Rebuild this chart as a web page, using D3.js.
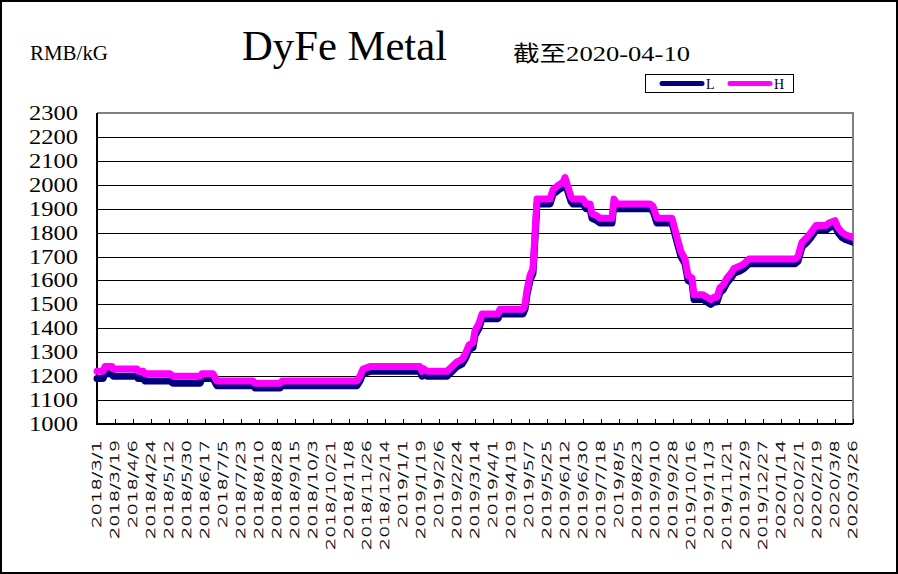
<!DOCTYPE html>
<html><head><meta charset="utf-8">
<script src="https://cdn.jsdelivr.net/npm/d3@7"></script>
<style>html,body{margin:0;padding:0;background:#fff;}svg{display:block;}</style>
</head><body>
<svg id="c" width="898" height="574"></svg>
<script>
const dates = ["2018-03-01","2018-03-07","2018-03-09","2018-03-16","2018-03-17","2018-04-10","2018-04-11","2018-04-16","2018-04-18","2018-05-13","2018-05-16","2018-06-12","2018-06-14","2018-06-25","2018-06-29","2018-08-04","2018-08-06","2018-08-31","2018-09-02","2018-11-16","2018-11-19","2018-11-22","2018-11-29","2019-01-18","2019-01-20","2019-01-22","2019-01-25","2019-02-14","2019-02-19","2019-02-24","2019-03-01","2019-03-04","2019-03-08","2019-03-12","2019-03-14","2019-03-18","2019-03-21","2019-04-06","2019-04-08","2019-05-01","2019-05-03","2019-05-05","2019-05-08","2019-05-11","2019-05-15","2019-05-28","2019-05-31","2019-06-03","2019-06-06","2019-06-10","2019-06-12","2019-06-15","2019-06-18","2019-06-20","2019-06-30","2019-07-03","2019-07-07","2019-07-09","2019-07-14","2019-07-17","2019-07-29","2019-07-31","2019-08-03","2019-09-05","2019-09-08","2019-09-12","2019-09-27","2019-10-02","2019-10-06","2019-10-10","2019-10-13","2019-10-17","2019-10-19","2019-10-28","2019-11-01","2019-11-05","2019-11-08","2019-11-11","2019-11-14","2019-11-17","2019-11-21","2019-11-25","2019-11-28","2019-12-04","2019-12-08","2019-12-13","2020-01-28","2020-01-31","2020-02-04","2020-02-09","2020-02-13","2020-02-18","2020-02-28","2020-03-02","2020-03-08","2020-03-11","2020-03-15","2020-03-19","2020-03-26"];
const highValues = [1220,1220,1240,1240,1230,1230,1220,1220,1210,1210,1200,1200,1210,1210,1180,1180,1170,1170,1180,1180,1200,1230,1240,1240,1220,1230,1220,1220,1240,1260,1270,1290,1330,1340,1390,1420,1460,1460,1480,1480,1500,1560,1620,1650,1940,1940,1980,1990,2000,2010,2030,1990,1950,1940,1940,1920,1920,1880,1870,1860,1860,1940,1920,1920,1910,1860,1860,1780,1720,1690,1620,1610,1540,1540,1530,1520,1530,1530,1570,1580,1610,1630,1650,1660,1670,1690,1690,1700,1760,1780,1800,1830,1830,1840,1850,1820,1800,1790,1780];
const lowValues = [1190,1190,1210,1210,1200,1200,1190,1190,1180,1180,1170,1170,1190,1190,1160,1160,1150,1150,1160,1160,1180,1210,1220,1220,1200,1210,1200,1200,1220,1240,1250,1270,1310,1320,1370,1400,1440,1440,1460,1460,1480,1540,1600,1630,1920,1920,1960,1970,1980,1990,2010,1970,1930,1920,1920,1900,1900,1860,1850,1840,1840,1920,1900,1900,1890,1840,1840,1760,1700,1670,1600,1590,1520,1520,1510,1500,1510,1510,1550,1560,1590,1610,1630,1640,1650,1670,1670,1680,1740,1760,1780,1810,1810,1820,1830,1800,1780,1770,1760];
const tickLabels = ["2018/3/1","2018/3/19","2018/4/6","2018/4/24","2018/5/12","2018/5/30","2018/6/17","2018/7/5","2018/7/23","2018/8/10","2018/8/28","2018/9/15","2018/10/3","2018/10/21","2018/11/8","2018/11/26","2018/12/14","2019/1/1","2019/1/19","2019/2/6","2019/2/24","2019/3/14","2019/4/1","2019/4/19","2019/5/7","2019/5/25","2019/6/12","2019/6/30","2019/7/18","2019/8/5","2019/8/23","2019/9/10","2019/9/28","2019/10/16","2019/11/3","2019/11/21","2019/12/9","2019/12/27","2020/1/14","2020/2/1","2020/2/19","2020/3/8","2020/3/26"];
const yTicks = [1000,1100,1200,1300,1400,1500,1600,1700,1800,1900,2000,2100,2200,2300];
const seriesNames = ["L","H"];
const seriesColors = ["#000080","#FF00FF"];
const titleText = "DyFe Metal";
const unitText = "RMB/kG";
const asOfText = "截至2020-04-10";

const svg = d3.select("#c");
const L = 97, R = 853, T = 113, B = 424;
const parse = d3.timeParse("%Y-%m-%d");
const parseTick = d3.timeParse("%Y/%m/%d");
const tickDates = tickLabels.map(parseTick);
const x = d3.scaleTime().domain([tickDates[0], tickDates[tickDates.length-1]]).range([L, R]);
const y = d3.scaleLinear().domain([1000, 2300]).range([B, T]);

svg.append("rect").attr("x",1).attr("y",1).attr("width",896).attr("height",572)
  .attr("fill","#fff").attr("stroke","#000").attr("stroke-width",2);

svg.append("g").selectAll("line").data(yTicks.filter(v=>v>1000 && v<2300)).join("line")
  .attr("x1",L).attr("x2",R).attr("y1",d=>Math.round(y(d))+0.5).attr("y2",d=>Math.round(y(d))+0.5)
  .attr("stroke","#000").attr("stroke-width",1.2);

svg.append("path").attr("d",`M${L},${y(2300)}H${R}V${B}`).attr("fill","none")
  .attr("stroke","#808080").attr("stroke-width",2);

svg.append("g").selectAll("line").data(tickDates).join("line")
  .attr("x1",d=>Math.round(x(d))+0.5).attr("x2",d=>Math.round(x(d))+0.5).attr("y1",B).attr("y2",B-5)
  .attr("stroke","#000").attr("stroke-width",1);

svg.append("line").attr("x1",L).attr("x2",R).attr("y1",B).attr("y2",B).attr("stroke","#000").attr("stroke-width",2);
svg.append("line").attr("x1",L).attr("x2",L).attr("y1",T).attr("y2",B+1).attr("stroke","#000").attr("stroke-width",2);

svg.append("g").selectAll("text").data(yTicks).join("text")
  .attr("x",78).attr("y",d=>y(d)).attr("dy","0.35em").attr("text-anchor","end")
  .attr("font-family","'Liberation Serif','Times New Roman',serif").attr("font-size",20)
  .attr("textLength",49).attr("lengthAdjust","spacingAndGlyphs")
  .text(d=>d);

svg.append("g").selectAll("text").data(tickLabels).join("text")
  .attr("transform",(d,i)=>`translate(${x(tickDates[i])-1},440) rotate(-90)`)
  .attr("dy","0.36em").attr("text-anchor","end")
  .attr("font-family","'DejaVu Sans','Liberation Sans',sans-serif").attr("font-weight",200).attr("font-size",13)
  .attr("textLength",d=>d.length*11).attr("lengthAdjust","spacingAndGlyphs")
  .attr("fill","#000").attr("stroke","#000").attr("stroke-width",0.3)
  .text(d=>d);

const parsed = dates.map(parse);
svg.append("clipPath").attr("id","pc").append("rect")
  .attr("x",L-4).attr("y",0).attr("width",R-L+4).attr("height",574);
[lowValues, highValues].forEach((vals,si)=>{
  const pts = parsed.map((d,i)=>[d, vals[i]]);
  svg.append("path").datum(pts)
    .attr("clip-path","url(#pc)")
    .attr("fill","none").attr("stroke",seriesColors[si]).attr("stroke-width",7)
    .attr("stroke-linejoin","round").attr("stroke-linecap","round")
    .attr("d", d3.line().x(p=>x(p[0])).y(p=>y(p[1])));
});

svg.append("text").attr("x",30).attr("y",60).attr("font-family","'Liberation Serif',serif")
  .attr("font-size",22).attr("textLength",78).attr("lengthAdjust","spacingAndGlyphs").text(unitText);
svg.append("text").attr("x",242).attr("y",60).attr("font-family","'Liberation Serif',serif")
  .attr("font-size",42).attr("textLength",205).attr("lengthAdjust","spacingAndGlyphs").text(titleText);
svg.append("text").attr("x",513).attr("y",61).attr("font-family","'Liberation Serif','Noto Sans CJK SC',serif")
  .attr("font-size",22).attr("textLength",177).attr("lengthAdjust","spacingAndGlyphs").text(asOfText);

const lg = svg.append("g");
lg.append("rect").attr("x",645.5).attr("y",74.5).attr("width",148).attr("height",18)
  .attr("fill","#fff").attr("stroke","#000").attr("stroke-width",1);
const legX = [660, 728];
seriesNames.forEach((n,i)=>{
  lg.append("line").attr("x1",legX[i]+2).attr("x2",legX[i]+42).attr("y1",83.5).attr("y2",83.5)
    .attr("stroke",seriesColors[i]).attr("stroke-width",5).attr("stroke-linecap","round");
  lg.append("text").attr("x",legX[i]+46).attr("y",89).attr("font-family","'Liberation Serif',serif")
    .attr("font-size",14).text(n);
});
</script>
</body></html>
